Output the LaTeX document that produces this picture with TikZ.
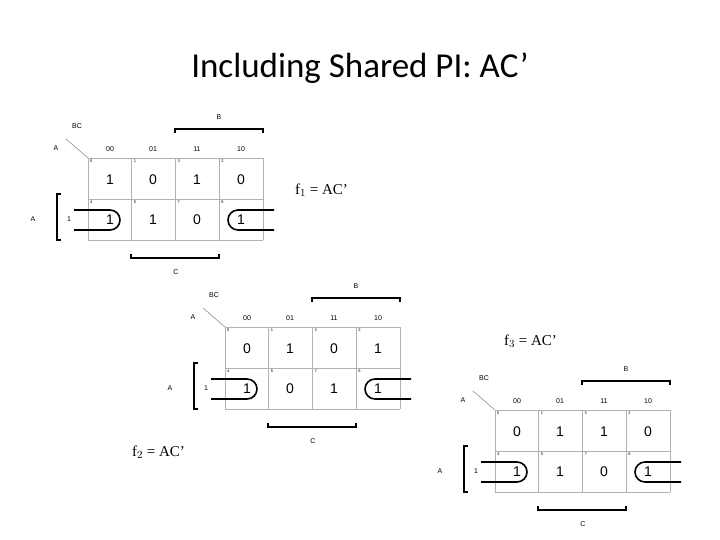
\documentclass[tikz,border=0pt]{standalone}
\usepackage{fontspec}
\setmainfont{Liberation Serif}
\newfontfamily\titlefont{Carlito}
\newfontfamily\arialf{Liberation Sans}
\tikzset{
  gridln/.style={draw=gray!60, line width=0.6pt},
  barln/.style={draw=black, line width=1.6pt},
  loopln/.style={draw=black, line width=1.6pt},
  small/.style={font=\arialf\fontsize{7}{8}\selectfont, inner sep=0pt},
  val/.style={font=\arialf\fontsize{14}{15}\selectfont, inner sep=0pt},
  idx/.style={font=\arialf\fontsize{4}{4}\selectfont, inner sep=0pt, anchor=north west},
  flabel/.style={font=\fontsize{15}{16}\selectfont, inner sep=0pt}
}
\newcommand\mykmap[9]{%
\begin{scope}[shift={(#2)}]
  \foreach \c in {0,...,4} \draw[gridln] (88+\c*43.75,158) -- (88+\c*43.75,240);
  \foreach \r in {158,199,240} \draw[gridln] (88,\r) -- (263,\r);
  \node[small] (#1bc) at (77,126) {BC};
  \node[small] (#1a) at (56,148) {A};
  \coordinate (#1d1) at (66,139); \coordinate (#1d2) at (88,158);
  \draw[gray, line width=0.5pt] (#1d1) -- (#1d2);
  \node[small] (#1c0) at (110,149) {00};
  \node[small] (#1c1) at (153,149) {01};
  \node[small] (#1c2) at (197,149) {11};
  \node[small] (#1c3) at (241,149) {10};
  \coordinate (#1b1) at (175,133); \coordinate (#1b2) at (263,133);
  \draw[barln] (#1b1) |- ++(0,-4) -| (#1b2);
  \node[small] (#1B) at (219,117) {B};
  \coordinate (#1e1) at (131,254); \coordinate (#1e2) at (219,254);
  \draw[barln] (#1e1) |- ++(0,4) -| (#1e2);
  \node[small] (#1C) at (176,272) {C};
  \coordinate (#1k1) at (61,194); \coordinate (#1k2) at (61,240);
  \draw[barln] (#1k1) -| ++(-4,0) |- (#1k2);
  \node[small] (#1A) at (33,219) {A};
  \node[small] (#1one) at (69,219) {1};
  \foreach \i/\n in {0/0,1/1,2/3,3/2} \node[idx] at (90+\i*43.75,160) {\n};
  \foreach \i/\n in {0/4,1/5,2/7,3/6} \node[idx] at (90+\i*43.75,201) {\n};
  \node[val] (#1v0) at (110,180) {#3};
  \node[val] (#1v1) at (153,180) {#4};
  \node[val] (#1v2) at (197,180) {#5};
  \node[val] (#1v3) at (241,180) {#6};
  \node[val] (#1v4) at (110,220) {1};
  \node[val] (#1v5) at (153,220) {#7};
  \node[val] (#1v6) at (197,220) {#8};
  \node[val] (#1v7) at (241,220) {#9};
  \draw[loopln] (74,210) -- (110,210) arc (-90:90:10) -- (74,230);
  \draw[loopln] (274,210) -- (238,210) arc (-90:-270:10) -- (274,230);
\end{scope}}
\begin{document}
\begin{tikzpicture}[x=1pt,y=-1pt]
\useasboundingbox (0,0) rectangle (720,540);
\node[font=\titlefont\fontsize{35}{37}\selectfont] (title) at (360,68) {Including Shared PI: AC’};
\mykmap{m}{0,0}{1}{0}{1}{0}{1}{0}{1}
\mykmap{n}{137,169}{0}{1}{0}{1}{0}{1}{1}
\mykmap{p}{407,252}{0}{1}{1}{0}{1}{0}{1}
\node[flabel, anchor=west] (f1) at (295,190) {f$_1$ = AC’};
\node[flabel, anchor=west] (f3) at (504,341) {f$_3$ = AC’};
\node[flabel, anchor=west] (f2) at (132,452) {f$_2$ = AC’};
\end{tikzpicture}
\end{document}
